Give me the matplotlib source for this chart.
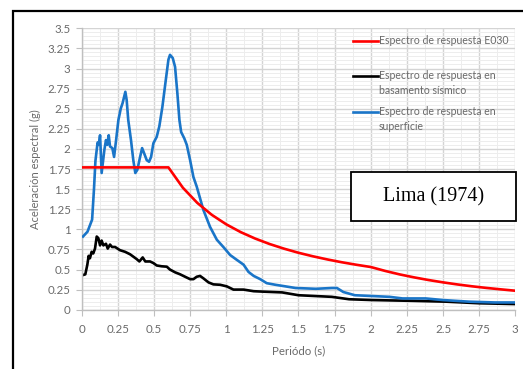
import matplotlib
matplotlib.use("Agg")
import matplotlib.pyplot as plt
from matplotlib.patches import Rectangle
from matplotlib.lines import Line2D
from matplotlib.ticker import MultipleLocator, FuncFormatter

# ---- data ----
t_e030 = [0.0, 0.6, 0.7, 0.8, 0.9, 1.0, 1.1, 1.2, 1.3, 1.4, 1.5, 1.6, 1.7, 1.8, 1.9, 2.0,
          2.1, 2.2, 2.3, 2.4, 2.5, 2.6, 2.7, 2.8, 2.9, 3.0]
sa_e030 = [1.77, 1.77, 1.517, 1.328, 1.18, 1.062, 0.965, 0.885, 0.817, 0.759, 0.708, 0.664,
           0.625, 0.59, 0.559, 0.531, 0.482, 0.439, 0.402, 0.369, 0.34, 0.314, 0.291,
           0.271, 0.253, 0.236]

t_base = [0.007, 0.025, 0.039, 0.048, 0.057, 0.069, 0.08, 0.092, 0.104, 0.115, 0.127, 0.138,
          0.15, 0.168, 0.18, 0.196, 0.21, 0.231, 0.265, 0.30, 0.334, 0.357, 0.38, 0.399,
          0.422, 0.44, 0.473, 0.496, 0.519, 0.553, 0.589, 0.61, 0.646, 0.681, 0.715, 0.75,
          0.773, 0.796, 0.819, 0.842, 0.877, 0.911, 0.958, 1.004, 1.05, 1.12, 1.19, 1.25,
          1.387, 1.50, 1.73, 1.85, 2.01, 2.29, 2.52, 2.75, 3.0]
sa_base = [0.43, 0.44, 0.56, 0.67, 0.64, 0.72, 0.70, 0.76, 0.91, 0.89, 0.80, 0.86,
           0.80, 0.82, 0.76, 0.81, 0.78, 0.78, 0.74, 0.72, 0.69, 0.66, 0.63, 0.60,
           0.65, 0.60, 0.60, 0.58, 0.55, 0.54, 0.535, 0.50, 0.465, 0.44, 0.41, 0.38,
           0.38, 0.41, 0.42, 0.39, 0.34, 0.315, 0.31, 0.29, 0.25, 0.25, 0.23, 0.225,
           0.215, 0.18, 0.16, 0.13, 0.12, 0.11, 0.10, 0.08, 0.07]

t_surf = [0.009, 0.04, 0.072, 0.085, 0.095, 0.104, 0.11, 0.118, 0.127, 0.138, 0.157, 0.168,
          0.177, 0.187, 0.196, 0.212, 0.224, 0.238, 0.254, 0.27, 0.283, 0.302, 0.311, 0.322,
          0.341, 0.357, 0.371, 0.385, 0.404, 0.418, 0.431, 0.45, 0.466, 0.48, 0.496, 0.519,
          0.537, 0.558, 0.582, 0.60, 0.611, 0.63, 0.646, 0.662, 0.676, 0.688, 0.71, 0.727,
          0.75, 0.773, 0.796, 0.842, 0.888, 0.935, 0.98, 1.027, 1.073, 1.12, 1.154, 1.19,
          1.235, 1.28, 1.34, 1.48, 1.62, 1.73, 1.766, 1.81, 1.89, 2.01, 2.13, 2.22, 2.38,
          2.50, 2.68, 2.86, 3.0]
sa_surf = [0.91, 0.97, 1.12, 1.5, 1.85, 1.99, 2.08, 2.05, 2.17, 1.70, 1.99, 2.11,
           2.05, 2.17, 2.03, 2.01, 1.90, 2.11, 2.36, 2.50, 2.57, 2.71, 2.61, 2.36,
           2.11, 1.86, 1.70, 1.74, 1.90, 2.01, 1.95, 1.86, 1.84, 1.90, 2.07, 2.15,
           2.28, 2.52, 2.86, 3.11, 3.17, 3.13, 3.02, 2.69, 2.36, 2.21, 2.13, 2.05,
           1.86, 1.65, 1.53, 1.24, 1.03, 0.87, 0.78, 0.68, 0.62, 0.56, 0.47, 0.42,
           0.38, 0.33, 0.31, 0.27, 0.26, 0.27, 0.27, 0.22, 0.18, 0.17, 0.16, 0.14, 0.14,
           0.12, 0.10, 0.09, 0.09]

labels = ["Espectro de respuesta E030",
          "Espectro de respuesta en\nbasamento sísmico",
          "Espectro de respuesta en\nsuperficie"]
colors = ["#ff0000", "#000000", "#1a75c8"]

x_ticks = [0, 0.25, 0.5, 0.75, 1, 1.25, 1.5, 1.75, 2, 2.25, 2.5, 2.75, 3]
y_ticks = [0, 0.25, 0.5, 0.75, 1, 1.25, 1.5, 1.75, 2, 2.25, 2.5, 2.75, 3, 3.25, 3.5]

# ---- figure ----
W, H = 523, 369
fig = plt.figure(figsize=(W / 100, H / 100), dpi=100)
fig.patch.set_facecolor("white")

# outer frame (cut at right and bottom)
top_f = 1 - 11 / H
fig.patches.append(Rectangle((13 / W, -0.5), 1.5, top_f + 0.5,
                             transform=fig.transFigure, fill=False,
                             edgecolor="black", linewidth=1.6, zorder=0))

ax = fig.add_axes([81.7 / W, 1 - 309.7 / H, (515.3 - 81.7) / W, (309.7 - 28.3) / H])
ax.set_xlim(0, 3)
ax.set_ylim(0, 3.5)

gray_txt = "#6a6a6a"
fam = ["Lato", "DejaVu Sans"]

def fmt(v, pos):
    s = ("%.2f" % v).rstrip("0").rstrip(".")
    return s

ax.set_xticks(x_ticks)
ax.set_yticks(y_ticks)
ax.xaxis.set_major_formatter(FuncFormatter(fmt))
ax.yaxis.set_major_formatter(FuncFormatter(fmt))
ax.yaxis.set_minor_locator(MultipleLocator(0.05))
ax.xaxis.set_minor_locator(MultipleLocator(0.125))
ax.grid(True, which="major", color="#d4d4d4", linewidth=1.0)
ax.grid(True, which="minor", color="#ededed", linewidth=0.7)
ax.set_axisbelow(True)
ax.tick_params(which="minor", length=0)
ax.tick_params(which="major", direction="out", length=4, color="#bfbfbf",
               labelcolor=gray_txt, labelsize=8.3)
ax.tick_params(axis="x", pad=6)
ax.tick_params(axis="y", pad=4)
for lab in ax.get_xticklabels() + ax.get_yticklabels():
    lab.set_family(fam)
for s in ["top", "right"]:
    ax.spines[s].set_visible(False)
for s in ["left", "bottom"]:
    ax.spines[s].set_color("#bfbfbf")
    ax.spines[s].set_linewidth(1.0)

lines = []
for tx, sy, c, lb in [(t_e030, sa_e030, colors[0], labels[0]),
                      (t_base, sa_base, colors[1], labels[1]),
                      (t_surf, sa_surf, colors[2], labels[2])]:
    ln, = ax.plot(tx, sy, color=c, linewidth=1.9, label=lb, solid_joinstyle="round")
    lines.append(ln)
lines[2].set_zorder(3)
lines[0].set_zorder(4)

ax.set_xlabel("Periódo (s)", color=gray_txt, fontsize=8.3, family=fam, labelpad=8)
ax.set_ylabel("Aceleración espectral (g)", color=gray_txt, fontsize=8.0, family=fam,
              labelpad=5)

# legend (manual, handle aligned with first label line)
leg_y = [41, 76, 112]
for ln, yy in zip(lines, leg_y):
    yf = 1 - yy / H
    fig.add_artist(Line2D([353 / W, 378 / W], [yf, yf], transform=fig.transFigure,
                          color=ln.get_color(), linewidth=1.9))
    fig.text(379 / W, yf + 6.0 / H, ln.get_label(), transform=fig.transFigure,
             fontsize=7.6, color=gray_txt, family=fam, va="top", ha="left",
             linespacing=1.45)

# Lima box
fig.patches.append(Rectangle((351 / W, 1 - 221 / H), (516 - 351) / W, 49 / H,
                             transform=fig.transFigure, facecolor="white",
                             edgecolor="black", linewidth=1.3, zorder=5))
fig.text(433.5 / W, 1 - 196.5 / H, "Lima (1974)", ha="center", va="center",
         fontsize=14.5, family=["Liberation Serif", "DejaVu Serif"], color="black",
         zorder=6)

fig.savefig("out.png", dpi=100, facecolor="white")
